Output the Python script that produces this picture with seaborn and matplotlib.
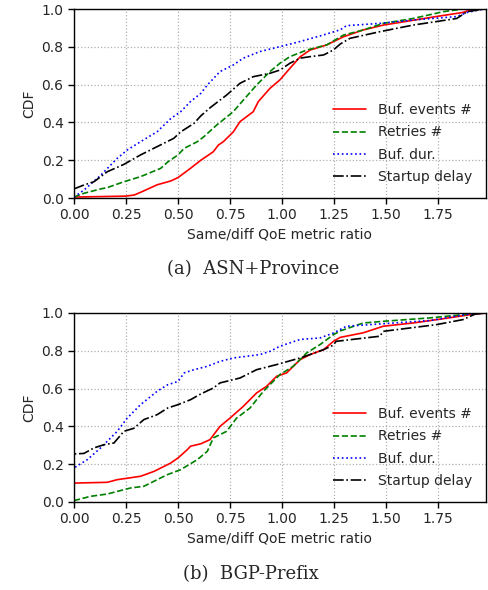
import matplotlib
matplotlib.use("Agg")
import matplotlib.pyplot as plt
import seaborn as sns
import pandas as pd

# ---------------- data: (a) ASN+Province ----------------
asn_buf_events_x = [0.0, 0.25, 0.29, 0.32, 0.40, 0.465, 0.50, 0.56, 0.61, 0.67, 0.694, 0.718, 0.766, 0.798,
                    0.862, 0.886, 0.942, 0.99, 1.038, 1.087, 1.135, 1.215, 1.295, 1.39, 1.487, 1.74, 1.87, 1.904, 1.98]
asn_buf_events_y = [0.005, 0.01, 0.016, 0.03, 0.07, 0.09, 0.108, 0.157, 0.20, 0.245, 0.28, 0.298, 0.35, 0.404,
                    0.457, 0.51, 0.58, 0.625, 0.686, 0.747, 0.783, 0.81, 0.853, 0.889, 0.915, 0.96, 0.982, 0.995, 1.0]

asn_retries_x = [0.0, 0.048, 0.128, 0.16, 0.24, 0.32, 0.417, 0.45, 0.50, 0.53, 0.593, 0.625, 0.686, 0.766, 0.814,
                 0.878, 0.942, 0.99, 1.038, 1.119, 1.215, 1.295, 1.39, 1.487, 1.63, 1.776, 1.87, 1.98]
asn_retries_y = [0.005, 0.025, 0.048, 0.055, 0.086, 0.113, 0.157, 0.19, 0.228, 0.263, 0.298, 0.325, 0.386, 0.457,
                 0.518, 0.598, 0.669, 0.713, 0.748, 0.783, 0.81, 0.862, 0.889, 0.924, 0.95, 0.986, 1.0, 1.0]

asn_buf_dur_x = [0.0, 0.048, 0.128, 0.208, 0.256, 0.32, 0.40, 0.465, 0.513, 0.56, 0.61, 0.641, 0.702, 0.766,
                 0.814, 0.894, 0.99, 1.087, 1.20, 1.28, 1.31, 1.47, 1.63, 1.84, 1.89, 1.97, 1.98]
asn_buf_dur_y = [0.005, 0.042, 0.12, 0.21, 0.254, 0.298, 0.351, 0.42, 0.457, 0.51, 0.554, 0.598, 0.669, 0.704,
                 0.74, 0.775, 0.801, 0.828, 0.863, 0.89, 0.912, 0.924, 0.942, 0.96, 0.982, 1.0, 1.0]

asn_startup_x = [0.0, 0.048, 0.096, 0.16, 0.24, 0.32, 0.40, 0.48, 0.513, 0.577, 0.61, 0.657, 0.734, 0.798, 0.862,
                 0.942, 0.99, 1.038, 1.087, 1.135, 1.20, 1.247, 1.28, 1.327, 1.47, 1.63, 1.84, 1.89, 1.97, 1.98]
asn_startup_y = [0.048, 0.069, 0.086, 0.139, 0.178, 0.228, 0.272, 0.316, 0.35, 0.395, 0.435, 0.48, 0.545, 0.607,
                 0.642, 0.66, 0.677, 0.713, 0.74, 0.748, 0.757, 0.783, 0.815, 0.845, 0.88, 0.915, 0.95, 0.986, 1.0, 1.0]

# ---------------- data: (b) BGP-Prefix ----------------
bgp_buf_events_x = [0.0, 0.0, 0.16, 0.208, 0.32, 0.385, 0.465, 0.50, 0.545, 0.56, 0.61, 0.654, 0.702, 0.75, 0.814,
                    0.878, 0.926, 0.974, 1.022, 1.087, 1.135, 1.20, 1.247, 1.28, 1.39, 1.487, 1.63, 1.776, 1.904, 1.98]
bgp_buf_events_y = [0.0, 0.10, 0.104, 0.118, 0.136, 0.162, 0.206, 0.233, 0.277, 0.295, 0.308, 0.33, 0.40, 0.444,
                    0.506, 0.577, 0.612, 0.665, 0.683, 0.753, 0.78, 0.806, 0.85, 0.871, 0.895, 0.93, 0.947, 0.97, 0.991, 1.0]

bgp_retries_x = [0.0, 0.08, 0.16, 0.208, 0.272, 0.336, 0.40, 0.45, 0.513, 0.593, 0.641, 0.67, 0.734, 0.782, 0.846,
                 0.91, 0.99, 1.054, 1.119, 1.183, 1.247, 1.28, 1.39, 1.487, 1.71, 1.904, 1.98]
bgp_retries_y = [0.007, 0.03, 0.042, 0.056, 0.074, 0.083, 0.118, 0.145, 0.171, 0.224, 0.268, 0.339, 0.374, 0.444,
                 0.497, 0.585, 0.674, 0.718, 0.789, 0.833, 0.885, 0.905, 0.947, 0.956, 0.974, 0.995, 1.0]

bgp_buf_dur_x = [0.0, 0.0, 0.064, 0.128, 0.208, 0.256, 0.32, 0.40, 0.45, 0.50, 0.53, 0.577, 0.641, 0.702, 0.766,
                 0.894, 0.942, 0.99, 1.087, 1.183, 1.247, 1.31, 1.47, 1.71, 1.904, 1.98]
bgp_buf_dur_y = [0.0, 0.18, 0.224, 0.286, 0.374, 0.444, 0.515, 0.586, 0.62, 0.638, 0.683, 0.70, 0.718, 0.744, 0.762,
                 0.78, 0.797, 0.824, 0.86, 0.868, 0.894, 0.93, 0.942, 0.96, 0.995, 1.0]

bgp_startup_x = [0.0, 0.0, 0.048, 0.096, 0.144, 0.192, 0.24, 0.288, 0.336, 0.40, 0.45, 0.50, 0.56, 0.61, 0.67,
                 0.702, 0.798, 0.878, 0.974, 1.087, 1.135, 1.20, 1.247, 1.26, 1.47, 1.487, 1.74, 1.87, 1.93, 1.98]
bgp_startup_y = [0.0, 0.254, 0.257, 0.286, 0.303, 0.312, 0.374, 0.39, 0.436, 0.462, 0.497, 0.515, 0.541, 0.572,
                 0.603, 0.63, 0.656, 0.70, 0.727, 0.762, 0.78, 0.806, 0.83, 0.85, 0.877, 0.903, 0.938, 0.965, 0.995, 1.0]

labels = ["Buf. events #", "Retries #", "Buf. dur.", "Startup delay"]
colors = ["red", "green", "blue", "black"]
styles = ["-", "--", ":", "-."]
xticks = [0.0, 0.25, 0.5, 0.75, 1.0, 1.25, 1.5, 1.75]
yticks = [0.0, 0.2, 0.4, 0.6, 0.8, 1.0]

panels = [
    ("(a)  ASN+Province", [(asn_buf_events_x, asn_buf_events_y), (asn_retries_x, asn_retries_y),
                          (asn_buf_dur_x, asn_buf_dur_y), (asn_startup_x, asn_startup_y)]),
    ("(b)  BGP-Prefix", [(bgp_buf_events_x, bgp_buf_events_y), (bgp_retries_x, bgp_retries_y),
                        (bgp_buf_dur_x, bgp_buf_dur_y), (bgp_startup_x, bgp_startup_y)]),
]

sns.set_style("ticks")
plt.rcParams["font.family"] = ["DejaVu Sans"]

fig = plt.figure(figsize=(4.88, 5.90), dpi=100)
ax_rects = [[0.1516, 0.6644, 0.844, 0.3203], [0.1516, 0.1492, 0.844, 0.3203]]
caption_pos = [(0.519, 0.544), (0.515, 0.027)]

for (caption, series), rect, (cx, cy) in zip(panels, ax_rects, caption_pos):
    ax = fig.add_axes(rect)
    for (xs, ys), lab, col, ls in zip(series, labels, colors, styles):
        df = pd.DataFrame({"x": xs, "y": ys})
        sns.lineplot(data=df, x="x", y="y", ax=ax, sort=False, estimator=None,
                     color=col, linestyle=ls, linewidth=1.2, label=lab)
    ax.set_xlim(0, 1.98)
    ax.set_ylim(0, 1.0)
    ax.set_xticks(xticks)
    ax.set_yticks(yticks)
    ax.set_xticklabels([f"{t:.2f}" for t in xticks])
    ax.set_yticklabels([f"{t:.1f}" for t in yticks])
    ax.tick_params(labelsize=10, length=4, width=1, color="black")
    ax.grid(True, linestyle=":", color="#b0b0b0", linewidth=0.9)
    for s in ax.spines.values():
        s.set_visible(True)
        s.set_color("black")
        s.set_linewidth(1.0)
    ax.set_xlabel("Same/diff QoE metric ratio", fontsize=10)
    ax.set_ylabel("CDF", fontsize=10)
    ax.legend(loc="lower right", frameon=False, fontsize=10, handlelength=2.4,
              handletextpad=0.85, borderaxespad=0.6, labelspacing=0.6)
    fig.text(cx, cy, caption, ha="center", va="center", fontsize=13,
             family=["DejaVu Serif"])

fig.savefig("out.png", dpi=100)
